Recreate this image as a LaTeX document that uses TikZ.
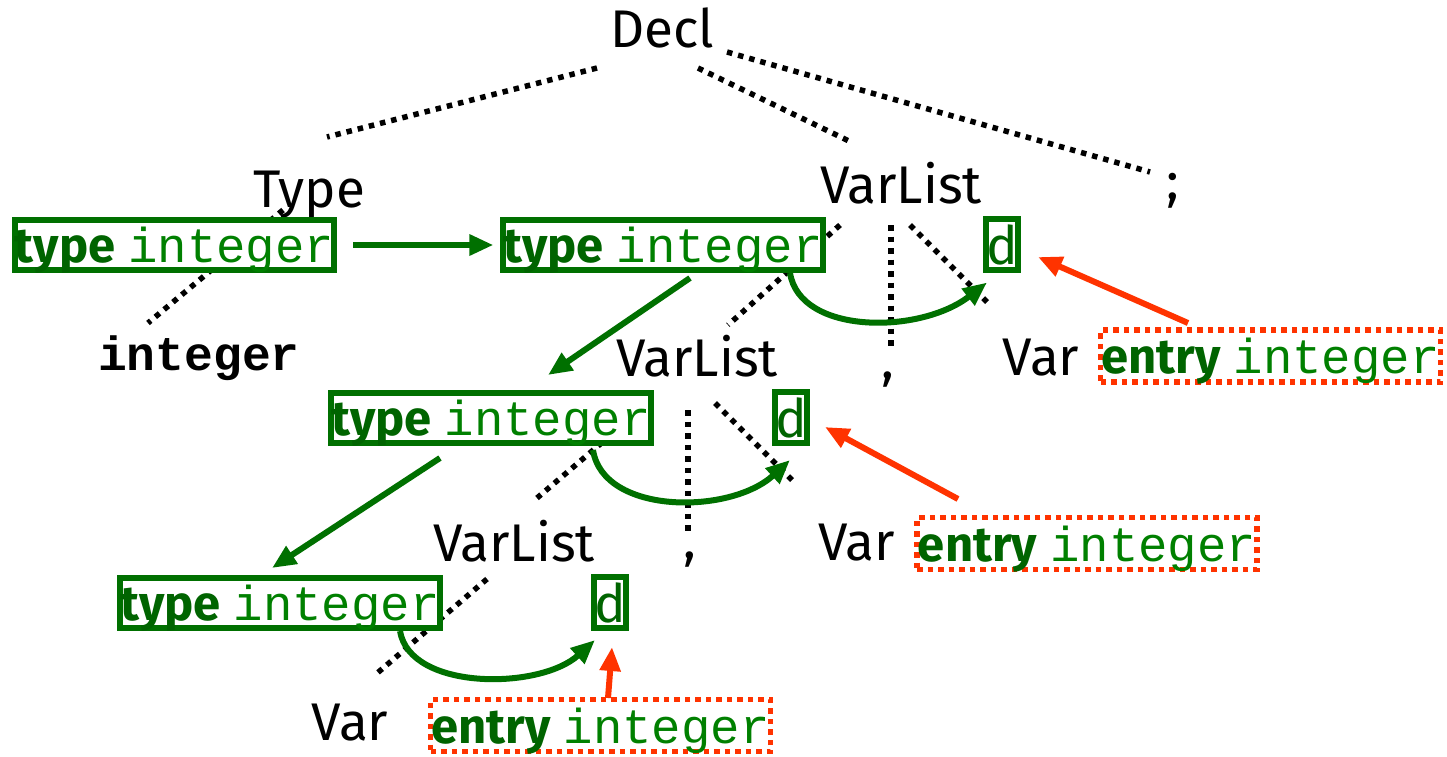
\documentclass[tikz,border=0pt]{standalone}
\usepackage{fontspec}
\setmainfont{Fira Sans}
\setmonofont{Liberation Mono}
\usepackage{xcolor}
\usetikzlibrary{arrows.meta}
\definecolor{boxgreen}{RGB}{0,112,0}
\definecolor{typegreen}{RGB}{0,100,0}
\definecolor{intgreen}{RGB}{0,128,0}
\definecolor{entryred}{RGB}{255,51,0}
\newcommand{\tyint}{{\bfseries\color{typegreen}type}\ {\ttfamily\color{intgreen}integer}}
\newcommand{\enint}{{\bfseries\color{typegreen}entry}\ {\ttfamily\color{intgreen}integer}}
\begin{document}
\begin{tikzpicture}[x=1pt,y=-1pt]
\tikzstyle{lbl}=[anchor=base,inner sep=0pt,font=\fontsize{53}{60}\selectfont]
\tikzstyle{tree}=[line width=5.5pt,dash pattern=on 5.5pt off 6pt]
\tikzstyle{typebox}=[draw=boxgreen,fill=white,line width=6pt,inner sep=0pt,minimum width=317pt,minimum height=50pt,text depth=0pt,font=\fontsize{49}{56}\selectfont]
\tikzstyle{dbox}=[typebox,minimum width=28pt,minimum height=51pt,text=typegreen,font=\fontsize{53}{60}\selectfont]
\tikzstyle{entrybox}=[draw=entryred,fill=white,line width=5.5pt,dash pattern=on 5.5pt off 5pt,inner sep=0pt,minimum width=340pt,minimum height=52pt,text depth=0pt,font=\fontsize{49}{56}\selectfont]
\tikzstyle{flow}=[boxgreen,line width=6pt,-{Triangle[length=24pt,width=20pt]}]
\tikzstyle{lookup}=[entryred,line width=6pt,-{Triangle[length=24pt,width=20pt]}]
\useasboundingbox (0,0) rectangle (1447,756);
% grammar symbols
\node[lbl] (decl) at (662.5,47) {Decl};
\node[lbl] (type) at (309,207) {Type};
\node[lbl] (vlA) at (901,203) {VarList};
\node[lbl] (semi) at (1173,199) {;};
\node[lbl,font=\fontsize{48}{56}\selectfont\ttfamily\bfseries] (intlit) at (199,370) {integer};
\node[lbl] (vlB) at (697,376) {VarList};
\node[lbl] (comA) at (888,378) {,};
\node[lbl] (varA) at (1041,375) {Var};
\node[lbl] (vlC) at (514,561) {VarList};
\node[lbl] (comB) at (690,558) {,};
\node[lbl] (varB) at (856.5,560) {Var};
\node[lbl] (varC) at (350,740) {Var};
% parse tree edges (dotted)
\draw[tree] ([shift={(-65.5,21)}]decl.base) -- ([shift={(18,-70)}]type.base);
\draw[tree] ([shift={(35.5,21)}]decl.base) -- ([shift={(-48,-60)}]vlA.base);
\draw[tree] ([shift={(64.5,5)}]decl.base) -- ([shift={(-23,-27)}]semi.base);
\draw[tree] ([shift={(-26,3)}]type.base) -- ([shift={(-51,-47)}]intlit.base);
\draw[tree] ([shift={(-61,22)}]vlA.base) -- ([shift={(31,-51)}]vlB.base);
\draw[tree] ([shift={(-10,22)}]vlA.base) -- ([shift={(3,-31)}]comA.base);
\draw[tree] ([shift={(9,22)}]vlA.base) -- ([shift={(-53,-72)}]varA.base);
\draw[tree] ([shift={(-51,29)}]vlB.base) -- ([shift={(23,-63)}]vlC.base);
\draw[tree] ([shift={(-9,34)}]vlB.base) -- ([shift={(-2,-26)}]comB.base);
\draw[tree] ([shift={(18,27)}]vlB.base) -- ([shift={(-61.5,-77)}]varB.base);
\draw[tree] ([shift={(-27,18)}]vlC.base) -- ([shift={(25,-65)}]varC.base);
% attribute boxes
\node[typebox] (ty1) at (174.5,245) {\tyint};
\node[typebox] (ty2) at (663,245) {\tyint};
\node[typebox] (ty3) at (491,418) {\tyint};
\node[typebox] (ty4) at (280,602.5) {\tyint};
\node[dbox] (d1) at (1002,244.5) {d};
\node[dbox] (d2) at (791,417.5) {d};
\node[dbox] (d3) at (610,602.5) {d};
\node[entrybox] (en1) at (1270.5,356) {\enint};
\node[entrybox] (en2) at (1087,543.5) {\enint};
\node[entrybox] (en3) at (600.5,725.5) {\enint};
% inherited type passed down
\draw[flow] ([xshift=16pt]ty1.east) -- ([xshift=-7pt]ty2.west);
\draw[flow] ([shift={(27,33)}]ty2.center) -- ([shift={(57,-43)}]ty3.center);
\draw[flow] ([shift={(-51,40)}]ty3.center) -- ([shift={(-8,-34.5)}]ty4.center);
\draw[flow] ([shift={(127,28)}]ty2.center) .. controls +(10,62) and +(-67,52) .. ([shift={(-15,38)}]d1.center);
\draw[flow] ([shift={(102,32)}]ty3.center) .. controls +(10,65) and +(-60,55) .. ([shift={(-1,42.5)}]d2.center);
\draw[flow] ([shift={(120,28.5)}]ty4.center) .. controls +(10,60) and +(-55,50) .. ([shift={(-15,37.5)}]d3.center);
% symbol table entries
\draw[lookup] ([shift={(-82.5,-33)}]en1.center) -- ([shift={(36,12.5)}]d1.center);
\draw[lookup] ([shift={(-129,-44.5)}]en2.center) -- ([shift={(34,9.5)}]d2.center);
\draw[lookup] ([shift={(7.5,-27.5)}]en3.center) -- ([shift={(2,44.5)}]d3.center);
\end{tikzpicture}
\end{document}
